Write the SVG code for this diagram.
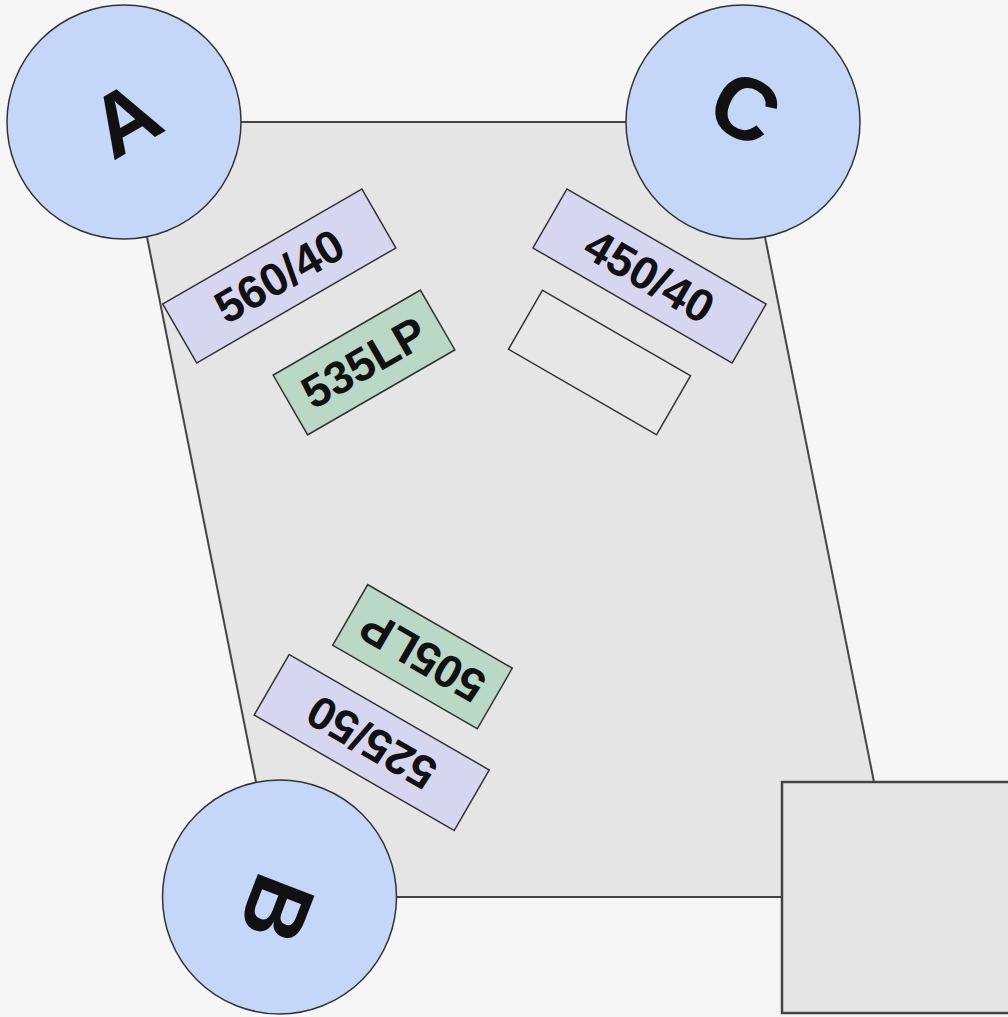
<svg xmlns="http://www.w3.org/2000/svg" width="1008" height="1017" viewBox="0 0 1008 1017">
<style>
.lbl{font-family:"Liberation Sans",Arial,sans-serif;font-weight:bold;font-size:46px;text-anchor:middle;dominant-baseline:central;fill:#111}
.big{font-family:"Liberation Sans",Arial,sans-serif;font-weight:bold;font-size:88px;text-anchor:middle;dominant-baseline:central;fill:#111}
.det{fill:#c4d7f9;stroke:#333;stroke-width:1.5}
.bp{fill:#d6d6f0;stroke:#333;stroke-width:1.5}
.lp{fill:#b9d8c6;stroke:#333;stroke-width:1.5}
.empty{fill:#e7e7e7;stroke:#333;stroke-width:1.5}
</style>
<rect width="1008" height="1017" fill="#f6f6f6"/>
<g id="chamber"><polygon points="124,122 742,122 897,897 279,897" fill="#e5e5e5" stroke="#444" stroke-width="2"/></g>
<g id="connectors"></g>
<g id="f560" transform="translate(279.3,276) rotate(-30)"><rect class="bp" x="-115" y="-34" width="230" height="68"/><text class="lbl" x="0" y="0">560/40</text></g>
<g id="f535" transform="translate(364,362.5) rotate(-30)"><rect class="lp" x="-85" y="-34.5" width="170" height="69"/><text class="lbl" x="0" y="0">535LP</text></g>
<g id="f450" transform="translate(649.5,276) rotate(30)"><rect class="bp" x="-115" y="-34" width="230" height="68"/><text class="lbl" x="0" y="0">450/40</text></g>
<g id="fblank" transform="translate(599.5,362.5) rotate(30)"><rect class="empty" x="-85.5" y="-34" width="171" height="68"/></g>
<g id="f505" transform="translate(422.5,656.7) rotate(210)"><rect class="lp" x="-83.5" y="-35" width="167" height="70"/><text class="lbl" x="0" y="0">505LP</text></g>
<g id="f525" transform="translate(371.7,742.5) rotate(210)"><rect class="bp" x="-115.5" y="-35" width="231" height="70"/><text class="lbl" x="0" y="0">525/50</text></g>
<g id="box"><rect x="782" y="782" width="240" height="231" fill="#e5e5e5" stroke="#444" stroke-width="2.5"/></g>
<g id="A"><circle class="det" cx="124" cy="122" r="117"/><text class="big" transform="translate(125,119) rotate(-30)">A</text></g>
<g id="C"><circle class="det" cx="743" cy="122" r="117"/><text class="big" transform="translate(745,108) rotate(28)">C</text></g>
<g id="B"><circle class="det" cx="279.5" cy="897" r="117"/><text class="big" transform="translate(277,909) rotate(111)">B</text></g>
</svg>
